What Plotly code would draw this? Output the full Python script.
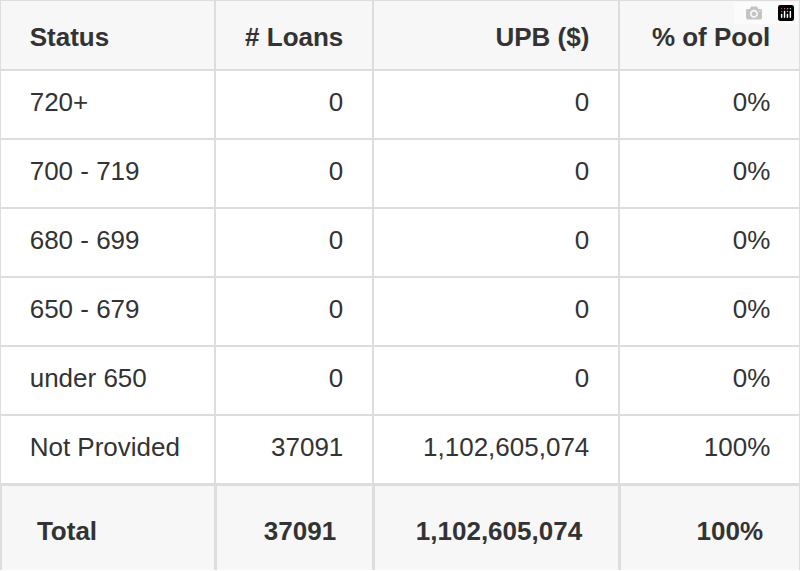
import plotly.graph_objects as go

headers = ["Status", "# Loans", "UPB ($)", "% of Pool"]
status = ["720+", "700 - 719", "680 - 699", "650 - 679", "under 650", "Not Provided"]
loans = ["0", "0", "0", "0", "0", "37091"]
upb = ["0", "0", "0", "0", "0", "1,102,605,074"]
pct = ["0%", "0%", "0%", "0%", "0%", "100%"]
total = ["Total", "37091", "1,102,605,074", "100%"]

sp = "\u00a0" * 3
sp2 = "\u00a0" * 4
widths = [215, 158, 246, 181]
aligns = ["left", "right", "right", "right"]
line = dict(color="#dddddd", width=2)
noline = dict(color="rgba(0,0,0,0)", width=0)
clear = "rgba(0,0,0,0)"
font = dict(family="Liberation Sans, Arial", size=26, color="#333333")
H = 571.0


def pad(v, i, s):
    return s + v if i == 0 else v + s


cols = [status, loans, upb, pct]
blank = [[""] * 6 for _ in range(4)]

fig = go.Figure()
# frames (borders + fills)
fig.add_trace(go.Table(
    domain=dict(x=[0, 1], y=[1 - 485 / H, 1]),
    columnwidth=widths,
    header=dict(values=[""] * 4, fill_color="#f7f7f7", line=line, height=70),
    cells=dict(values=blank, fill_color="white", line=line, height=69),
))
fig.add_trace(go.Table(
    domain=dict(x=[0, 1], y=[0, 1 - 484 / H]),
    columnwidth=widths,
    header=dict(values=[""] * 4, fill_color="#f7f7f7",
                line=dict(color="#dddddd", width=3), height=87),
))
# text layers, shifted down to centre vertically
text_cols = []
for i, c in enumerate(cols):
    text_cols.append(["<b>%s</b>" % pad(headers[i], i, sp)] + [pad(v, i, sp) for v in c])
fig.add_trace(go.Table(
    domain=dict(x=[0, 1], y=[1 - 500 / H, 1]),
    columnwidth=widths,
    header=dict(values=[""] * 4, fill_color=clear, line=noline, height=14),
    cells=dict(values=text_cols, align=aligns, fill_color=clear, line=noline,
               font=font, height=69),
))
fig.add_trace(go.Table(
    domain=dict(x=[0, 1], y=[0, 1 - 484 / H]),
    columnwidth=widths,
    header=dict(values=[""] * 4, fill_color=clear, line=noline, height=24),
    cells=dict(values=[["<b>%s</b>" % pad(v, i, sp2)] for i, v in enumerate(total)],
               align=aligns, fill_color=clear, line=noline, font=font, height=60),
))
fig.update_layout(width=800, height=571, margin=dict(l=0, r=0, t=0, b=0),
                  paper_bgcolor="white")
fig.write_html("out.html", post_script="document.body.style.margin='0';")
